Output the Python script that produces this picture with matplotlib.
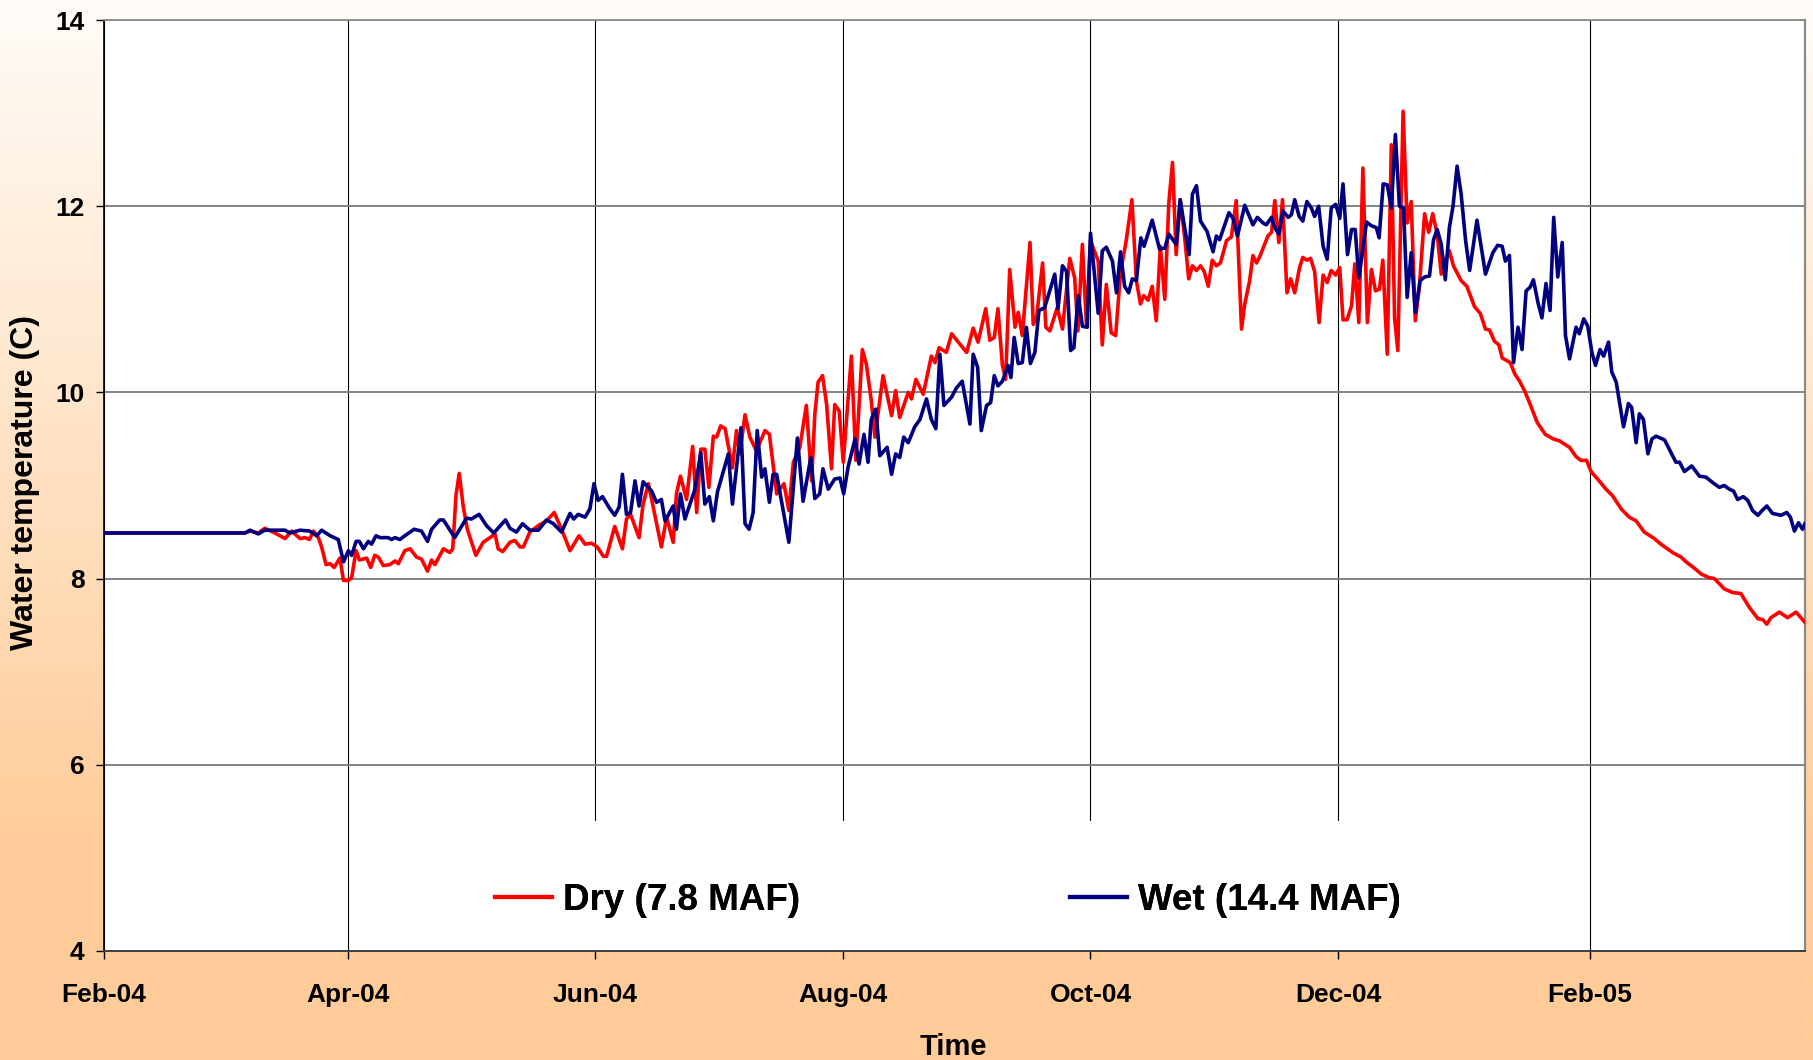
#!/usr/bin/env python3
"""Water temperature, dry vs wet year, Feb-04 to Mar-05."""
import matplotlib
matplotlib.use("Agg")
import matplotlib.pyplot as plt
import matplotlib.dates as mdates
from matplotlib.lines import Line2D
from matplotlib.patches import Rectangle
import numpy as np

# days since 1 Feb 2004, temperatures (C)
dry_day = [0, 34.7, 36, 38, 39.6, 42.1, 44.6, 46.2, 48.3, 49.5, 50.6, 51.6, 52.8, 53.6, 54.7, 55.7,
           56.7, 58.1, 59, 60.2, 61, 62.1, 62.9, 64.7, 65.7, 66.7, 67.6, 68.8, 70.4, 71.7, 72.5,
           74.1, 75.4, 77, 78.2, 79.7, 80.7, 81.5, 83.6, 85.2, 85.9, 86.7, 87.5, 88.5, 89.5, 91.6,
           93.4, 95.1, 96.3, 97.1, 98.2, 100, 101.2, 102.5, 103.3, 104.9,
           107, 109, 110.9, 112.7, 114.8, 117, 118.5, 120.1, 121.5, 123, 123.8, 125.8, 127.7, 128.7,
           129.7, 131.8, 132.8, 134.1, 137.3, 138.6, 140.2, 141, 142, 143.5, 145, 146, 147, 148, 149,
           150.1, 150.9, 151.9, 153, 154.8, 155.8, 156.6, 157.9, 159.1, 160.7, 162.8, 163.9, 165.7,
           167.5, 168.7, 169.8, 171.4, 173, 174.3, 175.1, 175.9, 177, 178, 179.2, 180, 181.1, 182.1,
           184.1, 185.2, 186.8, 187.8, 189, 189.9, 191.9, 194, 195, 196, 198.1, 198.9, 200, 201.8,
           203.8, 204.7, 205.7, 207.5, 208.8, 210.8, 212.5, 214.1, 215.3, 217.2, 218.2, 219.3, 220.2,
           221.3, 222.1, 223.1, 224.4, 225.2, 226.2, 228.1, 228.9, 229.7, 231.2, 232, 233, 234.8,
           236.1, 237.9, 239.1, 239.9, 241, 242, 243,
           244.9, 245.9, 246.9, 248.1, 249.2, 250.4, 251.8, 253.2, 254.3, 255.3, 256.1, 257.2, 258.2,
           259.2, 260.2, 261.3, 262.3, 263.2, 264.1, 265.1, 266.2, 267.2, 268.1, 269.1, 270.1, 271,
           272, 273, 274, 275, 276.5, 277.7, 278.9, 280.2, 281, 282.2, 283, 283.9, 284.8, 286.7,
           287.6, 288.4, 289.4, 290.3, 291.4, 292.3, 293.3, 294.5, 295.3, 296.3, 297.2, 298.2, 299.3,
           300.3, 301.3, 302.3, 303.4, 304.4, 305.2, 306.2, 307.3, 308.1, 309.1, 310.1, 311.2, 312.2,
           313.2, 314.2, 315, 316.1, 317.1, 317.9, 318.7,
           320, 321, 322, 323, 324, 325.3, 326.3, 327.3, 328.4, 329.4, 330.5, 331.4, 332.4, 334.3,
           335.7, 337.6, 339, 340.3, 341.3, 342.5, 343.6, 344.4, 346.4, 347.5, 348.7, 349.9, 351.5,
           353, 355, 357,
           358.5, 361, 362.6, 363.8, 365.2, 366.3, 367.9, 370, 371.6, 373.7, 375.7, 377.4, 379.4,
           381.9, 383.5, 386.4, 388.5, 389.7, 391.8, 393.4, 395.4, 396.7, 399.1, 401.2, 403.2, 405.3,
           407.4, 408.6, 409.6, 410.6, 412.7, 414.7, 416.8, 419]
dry_temp = [8.49, 8.49, 8.51, 8.49, 8.54, 8.49, 8.43, 8.51, 8.43, 8.44, 8.42, 8.51, 8.44, 8.34, 8.15,
            8.16, 8.12, 8.22, 7.98, 7.98, 8.01, 8.30, 8.20, 8.22, 8.12, 8.25, 8.23, 8.14, 8.15, 8.19,
            8.16, 8.30, 8.32, 8.23, 8.21, 8.08, 8.20, 8.15, 8.32, 8.28, 8.32, 8.89, 9.13, 8.77, 8.53,
            8.25, 8.39, 8.44, 8.48, 8.32, 8.29, 8.39, 8.41, 8.34, 8.34, 8.50,
            8.57, 8.62, 8.71, 8.53, 8.30, 8.46, 8.37, 8.38, 8.34, 8.24, 8.24, 8.56, 8.32, 8.64,
            8.69, 8.44, 8.80, 9.02, 8.34, 8.66, 8.39, 8.91, 9.10, 8.85, 9.42, 8.71, 9.39, 9.39, 8.98,
            9.53, 9.52, 9.64, 9.61, 9.19, 9.59, 9.34, 9.76, 9.52, 9.37, 9.59, 9.55, 8.91,
            9.02, 8.73, 9.25, 9.41, 9.86, 9.05, 9.77, 10.11, 10.18, 9.87, 9.18, 9.87, 9.80, 9.25,
            10.39, 9.27, 10.46, 10.30, 9.91, 9.52, 10.18, 9.75, 10.02, 9.73, 10.00, 9.93, 10.14, 9.98,
            10.39, 10.32, 10.48, 10.43, 10.63, 10.52, 10.43, 10.69, 10.54, 10.90, 10.56, 10.59, 10.90,
            10.29, 10.14, 11.32, 10.70, 10.86, 10.61, 11.61, 10.73, 10.80, 11.39, 10.70, 10.66, 10.91,
            10.68, 11.44, 11.23, 10.66, 11.59, 10.73, 11.63,
            11.41, 10.51, 11.16, 10.64, 10.61, 11.29, 11.63, 12.07, 11.20, 10.95, 11.04, 10.99, 11.14,
            10.77, 11.57, 11.00, 12.04, 12.47, 11.48, 12.07, 11.66, 11.22, 11.36, 11.31, 11.36, 11.30,
            11.14, 11.42, 11.36, 11.39, 11.63, 11.67, 12.06, 10.68, 10.95, 11.20, 11.47, 11.39, 11.47,
            11.68, 11.72, 12.06, 11.61, 12.07, 11.07, 11.22, 11.07, 11.34, 11.45, 11.42, 11.44, 11.30,
            10.75, 11.26, 11.18, 11.31, 11.26, 11.34, 10.78, 10.78, 10.93, 11.38, 10.75, 12.41, 10.75,
            11.32, 11.09, 11.11, 11.42, 10.41, 12.66, 10.80, 10.45,
            13.02, 11.82, 12.05, 10.77, 11.13, 11.92, 11.72, 11.92, 11.70, 11.27, 11.43, 11.52, 11.36,
            11.20, 11.14, 10.92, 10.85, 10.68, 10.67, 10.55, 10.51, 10.37, 10.32, 10.20, 10.12, 10.02,
            9.85, 9.68, 9.55, 9.50,
            9.48, 9.41, 9.31, 9.27, 9.27, 9.15, 9.07, 8.96, 8.89, 8.75, 8.66, 8.62, 8.50,
            8.43, 8.37, 8.28, 8.23, 8.18, 8.11, 8.05, 8.01, 8.00, 7.89, 7.85, 7.84, 7.69,
            7.57, 7.56, 7.51, 7.58, 7.64, 7.58, 7.64, 7.53]

wet_day = [0, 34.7, 36, 38, 39.6, 44.6, 45.8, 48.3, 50.7, 52.4, 53.6, 55.7, 57.7, 59, 60.2, 61, 62.1,
           62.9, 63.9, 65.1, 65.9, 67, 68, 70, 70.8, 71.7, 72.9, 74.1, 76.4, 78.2, 79.7, 80.7, 82.7,
           83.6, 86.4, 89.3, 90.5, 92.4, 94.2, 96, 98.9, 100, 101.6, 103.1, 104.9, 107, 109, 110.7,
           112.7, 114.8, 115.7, 116.8, 118.5, 119.7, 120.7, 121.7, 122.8, 124.6, 125.8, 126.9, 127.7,
           128.7, 129.7, 130.8, 131.8, 132.8, 134.9, 136.1, 137.3, 138.2, 140.2, 141, 142, 143.1,
           145.5, 147, 148, 149.1, 150.1, 151.1, 153.8, 154.8, 156.9, 157.9, 158.9, 159.9, 160.9, 162,
           162.8, 163.9, 164.8, 165.7, 168.7, 170.8, 172.2, 174.1, 175.1, 176.3, 177.1, 178.4, 180,
           181.3, 182.2, 183.3, 185, 186, 187.2, 188.2, 189, 190.1, 191.1, 192.9, 194, 195, 196, 197,
           198.1, 199.7, 201, 202.6, 203.8, 204.9, 205.9, 206.9, 208.8, 210, 211.4, 213.3, 214.1,
           215.2, 216.1, 217.4, 218.4, 219.3, 220.2, 221.3, 222.7, 223.4, 224.2, 225.2, 226.2, 227.2,
           228.2, 229.3, 230.3, 231.7, 234.2, 235, 236.1, 237.1, 238.1, 238.9, 240, 241, 242.2, 243,
           244.9, 245.9, 246.9, 248.4, 249.4, 250.4, 251.4, 252.4, 253.3, 254.3, 255.4, 256.2, 258.2,
           260, 261.3, 262.3, 264.1, 265.1, 266, 267.3, 268.1, 269.1, 270.1, 271.7, 273.2, 274,
           274.8, 277.1, 278.1, 279.2, 281, 283, 284.1, 285.5, 286.3, 287.6, 288.4, 289.4, 290.4,
           291.7, 292.5, 293.3, 294.4, 295.3, 296.3, 297.4, 298.2, 299.2, 300.3, 301.3, 302.3, 303.4,
           304.4, 305.2, 306.3, 307.3, 308.2, 309.1, 311, 312.2, 313.4, 314.1, 315.1, 316.1, 317.1,
           318.1, 319.1,
           320.1, 321, 322, 323, 324.2, 325.3, 326.5, 327.5, 328.4, 329.4, 330.4, 331.4, 332.3,
           333.3, 334.3, 335.4, 336.4, 338.2, 340.3, 342.1, 343.3, 344.4, 345.2, 346.2, 347.2, 348.3,
           349.3, 350.3, 351.3, 352.1, 353.2, 354.2, 355.2, 356.2, 357.1, 358.1, 359.2,
           360, 361, 362.6, 363.4, 364.5, 365.5, 366.5, 367.4, 368.5, 369.4, 370.6, 371.4, 372.5,
           374.3, 375.5, 376.3, 377.4, 378.2, 379.2, 380.3, 381.3, 382.3, 384.4, 385.8, 387.2, 388.1,
           389.3, 391.1, 393, 394.6, 396.3, 397.9, 399.1, 400.4, 401.4, 402.4, 403.8, 404.9, 406.1,
           407.4, 408.4, 409.6, 411, 413.1, 414.5, 415.4, 416.4, 417.4, 418.4, 419]
wet_temp = [8.49, 8.49, 8.52, 8.48, 8.52, 8.52, 8.49, 8.52, 8.51, 8.46, 8.52, 8.46, 8.42, 8.18, 8.30,
            8.25, 8.40, 8.40, 8.32, 8.40, 8.37, 8.46, 8.44, 8.44, 8.42, 8.44, 8.42, 8.46, 8.53, 8.51,
            8.40, 8.53, 8.63, 8.63, 8.44, 8.65, 8.64, 8.69, 8.57, 8.49, 8.63, 8.54, 8.50, 8.59, 8.52,
            8.52, 8.63, 8.59, 8.50, 8.70, 8.64, 8.69, 8.66, 8.75, 9.02, 8.84, 8.88, 8.75, 8.68, 8.77,
            9.12, 8.69, 8.71, 9.05, 8.78, 9.04, 8.94, 8.82, 8.85, 8.62, 8.78, 8.53, 8.91, 8.64,
            8.95, 9.35, 8.80, 8.88, 8.62, 8.93, 9.34, 8.80, 9.62, 8.59, 8.53, 8.71, 9.59, 9.09,
            9.18, 8.82, 9.12, 9.12, 8.39, 9.51, 8.83, 9.30, 8.86, 8.91, 9.18, 8.96, 9.07,
            9.08, 8.91, 9.20, 9.50, 9.23, 9.55, 9.25, 9.71, 9.82, 9.32, 9.41, 9.12, 9.34, 9.30, 9.52,
            9.46, 9.63, 9.71, 9.93, 9.71, 9.61, 10.41, 9.86, 9.95, 10.05, 10.12, 9.66, 10.41,
            10.27, 9.59, 9.86, 9.89, 10.18, 10.07, 10.12, 10.29, 10.16, 10.59, 10.31, 10.32, 10.70,
            10.31, 10.43, 10.88, 10.91, 11.27, 10.90, 11.36, 11.30, 10.45, 10.48, 11.04, 10.71, 10.70,
            11.71,
            10.85, 11.52, 11.56, 11.41, 11.07, 11.51, 11.14, 11.07, 11.22, 11.20, 11.66, 11.57, 11.85,
            11.54, 11.55, 11.70, 11.59, 12.07, 11.82, 11.48, 12.13, 12.22, 11.84, 11.73, 11.51, 11.68,
            11.64, 11.93, 11.87, 11.68, 12.01, 11.80, 11.88, 11.82, 11.80, 11.88, 11.77, 11.70, 11.95,
            11.88, 11.91, 12.07, 11.89, 11.84, 12.05, 11.98, 11.89, 12.00, 11.57, 11.43, 11.98, 12.02,
            11.87, 12.24, 11.48, 11.75, 11.75, 11.23, 11.83, 11.79, 11.77, 11.66, 12.24, 12.23, 11.98,
            12.77, 12.00,
            11.98, 11.02, 11.50, 10.86, 11.20, 11.24, 11.25, 11.64, 11.75, 11.59, 11.21, 11.77, 12.00,
            12.43, 12.13, 11.63, 11.31, 11.85, 11.27, 11.50, 11.58, 11.57, 11.41, 11.47, 10.32, 10.70,
            10.46, 11.09, 11.13, 11.21, 10.97, 10.80, 11.17, 10.88, 11.88, 11.24, 11.61,
            10.61, 10.36, 10.70, 10.63, 10.79, 10.71, 10.43, 10.29, 10.46, 10.39, 10.54, 10.22, 10.11,
            9.63, 9.88, 9.84, 9.46, 9.77, 9.71, 9.34, 9.50, 9.53, 9.49, 9.37, 9.25, 9.25,
            9.15, 9.21, 9.10, 9.09, 9.03, 8.98, 9.00, 8.96, 8.94, 8.85, 8.88, 8.84, 8.73,
            8.68, 8.73, 8.78, 8.70, 8.68, 8.71, 8.66, 8.51, 8.60, 8.53, 8.59]

series_labels = ["Dry (7.8 MAF)", "Wet (14.4 MAF)"]
month_ticks = ["2004-02-01", "2004-04-01", "2004-06-01", "2004-08-01",
               "2004-10-01", "2004-12-01", "2005-02-01"]
y_ticks = [4, 6, 8, 10, 12, 14]

plt.rcParams["font.family"] = ["Liberation Sans", "DejaVu Sans"]
plt.rcParams["font.weight"] = "bold"

W, H = 1813, 1060
fig = plt.figure(figsize=(W / 100, H / 100), dpi=100)

# peach gradient behind everything
bg = fig.add_axes([0, 0, 1, 1], zorder=-1)
t = np.clip(np.linspace(0, 1, 400) / 0.8, 0, 1)[:, None]
top, bot = np.array([255, 252, 248]) / 255, np.array([255, 204, 153]) / 255
bg.imshow((top * (1 - t) + bot * t)[:, None, :], aspect="auto", extent=[0, 1, 0, 1])
bg.axis("off")

ax = fig.add_axes([104 / W, (H - 951) / H, 1701 / W, 931 / H])
ax.set_facecolor("white")

base = mdates.date2num(np.datetime64("2004-02-01"))
red, = ax.plot(base + np.array(dry_day), dry_temp, color="#ff0000", lw=2.6, zorder=3)
blue, = ax.plot(base + np.array(wet_day), wet_temp, color="#000080", lw=2.6, zorder=4)

ax.set_ylim(4, 14)
ax.set_yticks(y_ticks)
ax.set_xlim(base, base + 419)
ax.set_xticks([mdates.date2num(np.datetime64(d)) for d in month_ticks])
ax.xaxis.set_major_formatter(mdates.DateFormatter("%b-%y"))

ax.set_axisbelow(True)
ax.grid(axis="y", color="#7a7a7a", lw=1.3)
ax.grid(axis="x", color="black", lw=0.8)
# white legend panel hides the vertical grid lines
ax.add_patch(Rectangle((0.1476, 0), 0.692, 0.1396, transform=ax.transAxes,
                       facecolor="white", edgecolor="none", zorder=1))

for side, c, w in (("left", "black", 1.2), ("bottom", "#404040", 1.4),
                   ("top", "#8a8a8a", 1.3), ("right", "#8a8a8a", 1.6)):
    ax.spines[side].set_color(c)
    ax.spines[side].set_linewidth(w)

ax.tick_params(axis="both", direction="out", length=6, width=1, color="black", labelsize=19)
ax.tick_params(axis="y", pad=8)
ax.tick_params(axis="x", pad=17)

fig.text(25 / W, 1 - 482 / H, "Water temperature (C)", rotation=90, ha="center", va="center",
         fontsize=23, fontweight="bold")
fig.text(953 / W, 1 - 1047 / H, "Time", ha="center", va="center", fontsize=21, fontweight="bold")

for line, label, x0 in ((red, series_labels[0], 495), (blue, series_labels[1], 1070)):
    h = Line2D([], [], color=line.get_color(), lw=3)
    leg = fig.legend([h], [label], loc="center left", bbox_to_anchor=(x0 / W, 1 - 900 / H),
                     frameon=False, fontsize=26.5, handlelength=1.55, handletextpad=0.3,
                     borderpad=0, borderaxespad=0)
    fig.add_artist(leg)

fig.savefig("out.png", dpi=100)
